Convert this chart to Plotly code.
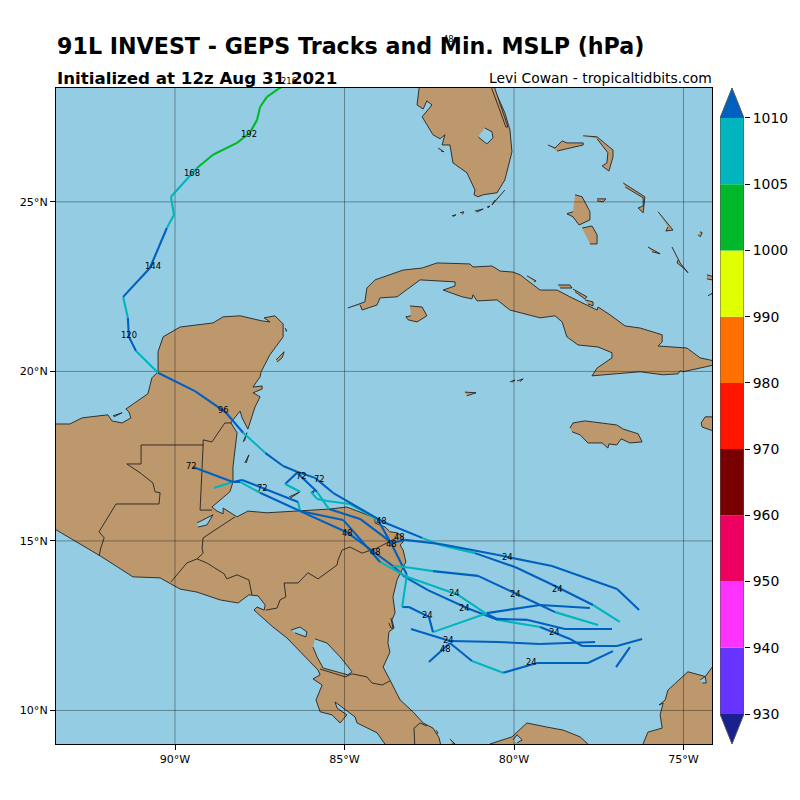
import plotly.graph_objects as go

# coastlines, (lon, lat)
central_america = [(-93.8,18.45),(-93.10,18.45),(-92.74,18.63),(-91.98,18.72),(-91.86,18.54),(-91.56,18.48),(-91.30,18.63),(-91.36,18.81),(-91.45,18.89),(-90.80,19.34),(-90.68,19.81),(-90.50,19.99),(-90.50,20.58),(-90.35,21.02),(-89.85,21.31),(-88.88,21.43),(-88.58,21.61),(-88.08,21.64),(-87.43,21.49),(-87.20,21.46),(-87.37,21.58),(-87.05,21.64),(-86.81,21.40),(-86.81,21.02),(-87.20,20.49),(-87.46,19.99),(-87.49,19.84),(-87.70,19.54),(-87.43,19.57),(-87.43,19.48),(-87.70,19.37),(-87.49,19.25),(-87.64,18.95),(-87.85,18.30),(-88.02,18.63),(-88.08,18.83),(-88.29,18.57),(-88.35,18.48),(-88.17,18.19),(-88.23,17.68),(-88.29,17.18),(-88.29,16.74),(-88.38,16.45),(-88.91,16.00),(-88.76,15.88),(-88.58,15.80),(-88.58,15.97),(-88.17,15.71),(-87.85,15.88),(-87.29,15.83),(-86.31,15.88),(-85.43,15.94),(-84.93,16.00),(-84.54,15.85),(-84.10,15.68),(-84.10,15.53),(-83.80,15.41),(-83.66,15.27),(-83.45,15.24),(-83.27,15.12),(-83.27,14.97),(-83.36,14.88),(-83.27,14.73),(-83.19,14.38),(-83.45,13.85),(-83.57,13.35),(-83.51,12.88),(-83.60,12.67),(-83.54,12.43),(-83.69,12.32),(-83.72,11.99),(-83.66,11.72),(-83.86,11.28),(-83.66,10.90),(-83.36,10.31),(-82.98,9.96),(-82.68,9.63),(-82.39,9.48),(-82.21,9.19),(-82.12,8.8),(-83.66,8.8),(-84.04,9.34),(-84.63,9.63),(-84.69,9.81),(-85.28,10.25),(-85.22,10.07),(-84.93,9.87),(-85.13,9.63),(-85.37,9.87),(-85.72,9.96),(-85.84,10.31),(-85.66,10.75),(-85.93,10.93),(-85.72,11.05),(-85.78,11.19),(-86.70,12.14),(-87.11,12.46),(-87.67,12.96),(-87.58,13.05),(-87.37,12.96),(-87.34,13.11),(-87.55,13.38),(-87.82,13.41),(-88.14,13.17),(-88.67,13.26),(-89.35,13.49),(-89.85,13.58),(-90.44,13.91),(-91.24,13.94),(-92.21,14.56),(-93.8,15.5)]
florida = [(-82.77,28.6),(-82.86,27.86),(-82.68,27.74),(-82.57,27.98),(-82.42,27.86),(-82.71,27.51),(-82.39,26.98),(-82.18,26.86),(-82.04,26.98),(-82.12,26.68),(-81.89,26.68),(-81.80,26.15),(-81.39,25.86),(-81.15,25.35),(-81.18,25.21),(-81.06,25.15),(-80.91,25.21),(-80.50,25.27),(-80.27,25.65),(-80.06,26.48),(-80.12,27.12),(-80.27,27.63),(-80.71,28.6)]
cuba = [(-84.90,21.87),(-84.40,22.05),(-84.34,22.46),(-84.10,22.70),(-83.27,22.99),(-82.71,23.05),(-82.27,23.20),(-81.30,23.17),(-81.21,23.08),(-80.65,23.11),(-80.41,22.96),(-80.03,22.93),(-79.82,22.85),(-79.23,22.40),(-78.73,22.40),(-78.35,22.20),(-77.55,21.81),(-77.52,21.90),(-77.17,21.67),(-76.72,21.34),(-76.28,21.28),(-75.63,21.08),(-75.63,20.87),(-75.75,20.75),(-74.90,20.69),(-74.51,20.40),(-74.10,20.31),(-74.10,20.19),(-74.51,20.10),(-75.01,19.99),(-75.10,20.02),(-75.16,19.93),(-75.60,19.90),(-76.28,19.99),(-77.70,19.87),(-77.55,20.10),(-77.11,20.40),(-77.11,20.55),(-77.52,20.72),(-78.11,20.78),(-78.44,21.02),(-78.58,21.46),(-78.79,21.64),(-79.23,21.58),(-80.12,21.81),(-80.50,22.11),(-81.09,22.08),(-81.21,22.26),(-81.24,22.14),(-81.53,22.20),(-82.09,22.40),(-81.74,22.52),(-81.74,22.64),(-82.77,22.70),(-83.45,22.20),(-83.95,22.17),(-84.04,21.96),(-84.48,21.81),(-84.54,21.96)]
isle_of_youth = [(-83.07,21.93),(-82.71,21.90),(-82.57,21.64),(-82.86,21.46),(-83.12,21.52),(-83.19,21.61),(-83.04,21.64)]
jamaica = [(-78.35,18.33),(-78.26,18.48),(-77.91,18.54),(-76.97,18.42),(-76.78,18.30),(-76.34,18.16),(-76.22,17.92),(-76.58,17.89),(-76.84,18.01),(-76.97,17.83),(-77.20,17.86),(-77.23,17.74),(-77.40,17.89),(-77.82,17.89),(-78.05,18.13),(-78.29,18.22)]
hispaniola = [(-74.0,18.66),(-74.36,18.66),(-74.48,18.48),(-74.45,18.36),(-74.0,18.2)]
andros = [(-78.20,25.21),(-77.99,25.15),(-77.76,24.71),(-77.76,24.47),(-78.08,24.32),(-78.26,24.56),(-78.44,24.65),(-78.26,24.71)]
andros_south = [(-77.99,24.23),(-77.70,24.29),(-77.55,24.03),(-77.55,23.76),(-77.76,23.76)]
grand_bahama = [(-79.00,26.68),(-78.79,26.59),(-78.58,26.80),(-78.44,26.74),(-77.96,26.74),(-77.96,26.68),(-78.73,26.50)]
abaco = [(-77.96,26.95),(-77.55,26.92),(-77.08,26.53),(-77.08,26.33),(-77.20,25.91),(-77.40,26.06),(-77.26,26.15),(-77.23,26.45),(-77.55,26.86)]
eleuthera = [(-76.78,25.56),(-76.14,25.15),(-76.19,24.68),(-76.34,24.82),(-76.19,24.88),(-76.19,25.12),(-76.72,25.44)]
new_providence = [(-77.55,25.09),(-77.29,25.09),(-77.37,25.00),(-77.55,25.03)]
cat_island = [(-75.75,24.71),(-75.31,24.17),(-75.52,24.14),(-75.46,24.26)]
san_salvador = [(-74.51,24.12),(-74.45,24.09),(-74.51,23.97),(-74.57,24.03)]
exuma = [(-76.05,23.67),(-75.69,23.47),(-75.93,23.53)]
long_island = [(-75.34,23.67),(-75.10,23.20),(-74.87,22.91),(-74.96,23.02),(-75.19,23.20),(-75.16,23.29)]
crooked = [(-74.31,22.85),(-74.0,22.76),(-74.0,22.67),(-74.31,22.73)]
acklins = [(-74.28,22.23),(-74.0,22.40),(-74.0,22.30)]
cays_a = [(-79.62,22.82),(-79.35,22.67),(-79.41,22.64)]
cays_b = [(-78.70,22.55),(-78.35,22.55),(-78.29,22.46),(-78.64,22.46)]
cays_c = [(-78.26,22.43),(-77.85,22.20),(-77.91,22.14),(-78.20,22.35)]
cays_d = [(-77.91,22.11),(-77.67,22.05),(-77.67,21.93),(-77.82,21.99)]
cayman = [(-81.45,19.39),(-81.12,19.37),(-81.39,19.28)]
little_cayman = [(-80.12,19.69),(-79.97,19.75),(-80.05,19.68)]
cayman_brac = [(-79.91,19.72),(-79.73,19.78),(-79.82,19.70)]
cozumel = [(-87.02,20.34),(-86.78,20.58),(-86.84,20.40),(-86.99,20.28)]
mujeres = [(-86.75,21.28),(-86.70,21.19),(-86.74,21.20)]
turneffe_a = [(-87.99,17.92),(-87.88,18.19),(-87.95,17.95)]
turneffe_b = [(-87.94,17.30),(-87.82,17.54),(-87.90,17.30)]
carmen = [(-91.83,18.69),(-91.56,18.78),(-91.80,18.66)]
roatan = [(-86.63,16.30),(-86.31,16.45),(-86.60,16.26)]
utila = [(-85.96,16.45),(-85.87,16.50),(-85.93,16.40)]
pearl_cays = [(-83.63,12.73),(-83.57,12.43),(-83.63,12.43),(-83.69,12.58)]
barrier_east = [(-80.65,28.6),(-80.18,27.21),(-80.24,27.21),(-80.75,28.6)]
pine_island = [(-82.24,26.59),(-82.07,26.48),(-82.15,26.50)]
upper_keys = [(-80.27,25.35),(-80.65,24.91),(-80.56,25.06)]
key_a = [(-81.83,24.59),(-81.71,24.62),(-81.80,24.57)]
key_b = [(-81.59,24.68),(-81.48,24.71),(-81.52,24.63)]
key_c = [(-81.15,24.73),(-80.91,24.79),(-81.10,24.70)]
key_d = [(-80.80,24.85),(-80.71,24.88),(-80.77,24.82)]
panama_east = [(-80.71,8.8),(-80.71,9.01),(-80.06,9.22),(-79.62,9.63),(-79.03,9.51),(-78.55,9.42),(-78.05,9.22),(-77.82,9.01),(-77.82,8.8)]
colombia = [(-76.28,8.8),(-76.05,9.36),(-75.63,9.48),(-75.69,9.87),(-75.60,10.22),(-75.72,10.16),(-75.54,10.31),(-75.46,10.60),(-74.87,11.14),(-74.36,11.00),(-74.15,11.28),(-74.0,11.5),(-74.0,8.8)]
san_blas = [(-81.89,9.16),(-81.74,9.01),(-81.83,9.01)]
bocas = [(-82.30,9.42),(-82.24,9.33),(-82.28,9.33)]
land_polys = [central_america, florida, cuba, isle_of_youth, jamaica, hispaniola, andros, andros_south,
              grand_bahama, abaco, eleuthera, new_providence, cat_island, san_salvador, exuma, long_island,
              crooked, acklins, cays_a, cays_b, cays_c, cays_d, cayman, little_cayman, cayman_brac, cozumel,
              mujeres, turneffe_a, turneffe_b, carmen, roatan, utila, pearl_cays, barrier_east, pine_island,
              upper_keys, key_a, key_b, key_c, key_d, panama_east, colombia, san_blas, bocas]

# lakes
lake_nicaragua = [(-85.87,12.11),(-85.52,11.99),(-85.13,11.58),(-84.78,11.14),(-84.90,11.05),(-85.63,11.25),(-85.81,11.58),(-85.93,11.87)]
lake_managua = [(-86.58,12.37),(-86.31,12.46),(-86.11,12.32),(-86.14,12.17),(-86.31,12.23),(-86.46,12.29)]
lake_izabal = [(-89.35,15.53),(-88.88,15.77),(-89.06,15.47),(-89.32,15.41)]
okeechobee = [(-80.86,27.18),(-80.65,27.07),(-80.62,26.89),(-80.80,26.71),(-81.06,26.92)]
gatun = [(-80.03,9.13),(-79.91,9.28),(-79.76,9.13),(-79.91,9.04)]
maracaibo = [(-74.51,10.90),(-74.36,11.00),(-74.33,10.81),(-74.45,10.81)]
lake_polys = [lake_nicaragua, lake_managua, lake_izabal, okeechobee, gatun, maracaibo]

# borders
border_gua_bel = [(-91.42,17.27),(-91.00,17.27),(-91.00,17.83),(-89.17,17.83),(-89.26,15.91),(-88.91,15.91)]
border_bel_mex = [(-89.17,17.83),(-89.17,17.98),(-88.91,17.92),(-88.53,18.48),(-88.35,18.48)]
border_mex_gua = [(-91.42,17.27),(-91.03,17.01),(-90.65,16.71),(-90.59,16.45),(-90.44,16.42),(-90.47,16.09),(-91.74,16.09),(-92.24,15.27),(-92.09,15.09),(-92.18,14.82),(-92.24,14.56)]
border_gua_hon = [(-88.23,15.71),(-89.17,15.09),(-89.20,14.79),(-89.17,14.64),(-89.35,14.47)]
border_gua_els = [(-89.35,14.47),(-89.65,14.35),(-90.12,13.79)]
border_els_hon = [(-89.35,14.47),(-89.06,14.35),(-88.55,14.03),(-88.47,13.88),(-88.17,14.00),(-87.82,13.85),(-87.73,13.41)]
border_hon_nic = [(-87.32,12.96),(-86.99,13.02),(-86.90,13.26),(-86.73,13.35),(-86.78,13.76),(-86.37,13.76),(-86.08,14.06),(-85.78,13.88),(-85.22,14.29),(-85.19,14.44),(-85.07,14.73),(-84.84,14.82),(-84.48,14.64),(-84.04,14.79),(-83.75,14.94),(-83.42,15.12)]
border_nic_cr = [(-85.72,11.22),(-84.98,10.99),(-84.78,11.08),(-84.34,10.99),(-84.19,10.81),(-83.89,10.75),(-83.66,10.87)]
border_cr_pan = [(-82.92,8.8),(-82.95,9.48),(-82.77,9.63),(-82.57,9.54)]
border_lines = [border_gua_bel, border_bel_mex, border_mex_gua, border_gua_hon, border_gua_els, border_els_hon,
                border_hon_nic, border_nic_cr, border_cr_pan]

# ensemble tracks, mslp is per leg
track_1_lon = [-76.31,-76.96,-78.88,-80.50,-82.18,-83.22,-83.60,-84.54,-85.46,-85.81,-86.40,-86.75,-86.31]
track_1_lat = [12.96,13.58,14.26,14.59,14.91,15.03,14.94,15.65,15.94,16.45,17.01,16.68,16.45]
track_1_mslp = [1011,1011,1011,1011,1011,1011,1011,1011,1007,1011,1011,1007]

track_2_lon = [-76.88,-77.67,-78.85,-79.97,-81.15,-82.18,-82.71,-83.86,-85.34,-85.87,-86.40,-86.81,-87.34,-87.99,-88.52,-89.41,-90.50,-91.15,-91.36,-91.39,-91.53,-90.74,-90.24,-90.03,-90.12,-89.35,-88.88,-88.17,-87.79,-87.58,-87.49,-87.29,-86.96,-86.61]
track_2_lat = [12.61,13.11,13.70,14.23,14.64,14.88,15.09,15.56,16.42,16.86,17.04,17.21,17.60,18.19,18.81,19.42,19.96,20.60,21.02,21.58,22.20,23.05,24.23,24.62,25.15,26.00,26.39,26.74,27.04,27.42,27.80,28.10,28.33,28.54]
track_2_mslp = [1007,1011,1011,1011,1007,1007,1011,1011,1011,1011,1011,1011,1007,1011,1011,1011,1007,1011,1011,1007,1011,1011,1007,1007,1007,1003,1003,1003,1003,1003,1003,1003,1003]

track_3_lon = [-77.52,-78.79,-79.23,-81.06,-82.39,-83.22,-83.57,-84.90,-86.31,-87.49,-88.08,-88.29,-89.47]
track_3_lat = [12.52,12.90,13.11,13.97,14.11,14.23,14.26,15.24,15.88,16.42,16.74,16.74,17.18]
track_3_mslp = [1007,1011,1011,1011,1007,1007,1011,1011,1011,1007,1011,1011]

track_4_lon = [-77.76,-79.23,-80.80,-82.39,-82.51,-83.10,-83.30,-83.16,-83.57,-84.01,-84.84,-85.52,-85.81,-85.99]
track_4_lat = [13.02,13.11,12.87,12.31,12.76,13.05,13.05,14.00,14.82,15.62,16.09,16.18,16.24,16.45]
track_4_mslp = [1011,1011,1007,1011,1011,1011,1007,1011,1011,1007,1007,1007,1007]

track_5_lon = [-77.11,-78.50,-79.59,-80.50,-80.85,-81.65,-83.16,-83.95,-85.04,-86.31,-86.37,-88.02,-88.29,-88.85]
track_5_lat = [12.40,12.40,12.67,12.70,12.87,13.41,13.94,14.38,15.62,15.88,16.15,16.80,16.74,16.56]
track_5_mslp = [1011,1011,1011,1011,1007,1007,1007,1011,1011,1007,1011,1011,1007]

track_6_lon = [-76.22,-76.96,-77.99,-78.35,-79.23,-80.47,-81.39,-82.54,-83.22,-83.57]
track_6_lat = [12.11,11.90,11.90,12.11,12.46,12.67,13.02,13.55,13.94,14.26]
track_6_mslp = [1011,1011,1011,1011,1007,1011,1011,1011,1011]

track_7_lon = [-77.61,-79.23,-80.47,-81.89,-83.04]
track_7_lat = [12.02,11.96,12.02,12.05,12.40]
track_7_mslp = [1011,1011,1011,1011]

track_8_lon = [-77.08,-77.82,-79.32,-80.32,-81.24,-81.89,-82.51]
track_8_lat = [11.75,11.40,11.40,11.11,11.46,11.99,11.43]
track_8_mslp = [1011,1011,1011,1007,1011,1011]

track_9_lon = [-76.58,-76.99]
track_9_lat = [11.87,11.28]
track_9_mslp = [1011]

tracks = [(track_8_lon, track_8_lat, track_8_mslp), (track_7_lon, track_7_lat, track_7_mslp),
          (track_9_lon, track_9_lat, track_9_mslp), (track_6_lon, track_6_lat, track_6_mslp),
          (track_5_lon, track_5_lat, track_5_mslp), (track_4_lon, track_4_lat, track_4_mslp),
          (track_3_lon, track_3_lat, track_3_mslp), (track_2_lon, track_2_lat, track_2_mslp),
          (track_1_lon, track_1_lat, track_1_mslp)]

# forecast hour labels
hour_text = ['216','48','192','168','144','120','96','72','72','72','72','48','48','48','48','48','48',
             '24','24','24','24','24','24','24','24','24']
hour_lon = [-86.64,-81.92,-87.82,-89.50,-90.65,-91.36,-88.58,-89.50,-87.43,-86.28,-85.75,-84.90,-84.10,-83.90,-83.39,-83.60,-82.01,
            -80.19,-79.95,-78.71,-81.77,-81.45,-82.54,-78.82,-81.92,-79.47]
hour_lat = [28.57,29.81,27.01,25.86,23.11,21.08,18.86,17.21,16.56,16.92,16.83,15.24,14.68,15.59,15.12,14.91,11.82,
            14.53,13.44,13.58,13.47,13.02,12.82,12.32,12.08,11.43]

# colour scale
levels = [930,940,950,960,970,980,990,1000,1005,1010]
level_colors = ['#6633ff','#ff33ff','#ee0060','#780000','#ff1500','#ff7000','#e0ff00','#00b82a','#00b5bd']
under_color = '#1a2090'
over_color = '#0060bf'

lon_ticks = [-90,-85,-80,-75]
lon_labels = ['90°W','85°W','80°W','75°W']
lat_ticks = [10,15,20,25]
lat_labels = ['10°N','15°N','20°N','25°N']

LAND = '#bd986c'
WATER = '#94cde3'
COAST = '#222222'
FONT = 'DejaVu Sans'
x_range = [-93.51, -74.16]
y_range = [9.01, 28.36]
# page puts the figure 8px in from the corner, domains allow for that
x_domain = [0.06, 0.88]
y_domain = [0.08, 0.90]


def leg_color(p):
    if p >= levels[-1]:
        return over_color
    for i in range(len(level_colors)):
        if levels[i] <= p < levels[i + 1]:
            return level_colors[i]
    return under_color


def to_paper(v, rng, dom):
    return dom[0] + (v - rng[0]) / (rng[1] - rng[0]) * (dom[1] - dom[0])


fig = go.Figure()

for poly in land_polys:
    fig.add_trace(go.Scatter(x=[p[0] for p in poly], y=[p[1] for p in poly], mode='lines', fill='toself',
                             fillcolor=LAND, line=dict(color=COAST, width=0.9), hoverinfo='skip'))
for poly in lake_polys:
    fig.add_trace(go.Scatter(x=[p[0] for p in poly], y=[p[1] for p in poly], mode='lines', fill='toself',
                             fillcolor=WATER, line=dict(color=COAST, width=0.9), hoverinfo='skip'))
for b in border_lines:
    fig.add_trace(go.Scatter(x=[p[0] for p in b], y=[p[1] for p in b], mode='lines',
                             line=dict(color=COAST, width=0.9), hoverinfo='skip'))

# grid has to sit above the land, so it is a trace
grid_x = []
grid_y = []
for v in lon_ticks:
    grid_x += [v, v, None]
    grid_y += [y_range[0], y_range[1], None]
for v in lat_ticks:
    grid_x += [x_range[0], x_range[1], None]
    grid_y += [v, v, None]
fig.add_trace(go.Scatter(x=grid_x, y=grid_y, mode='lines', line=dict(color='rgba(0,0,0,0.4)', width=0.9),
                         hoverinfo='skip'))

for lon, lat, mslp in tracks:
    for i in range(len(mslp)):
        fig.add_trace(go.Scatter(x=lon[i:i + 2], y=lat[i:i + 2], mode='lines',
                                 line=dict(color=leg_color(mslp[i]), width=2.1), hoverinfo='skip'))

# colour bar on its own axes, one band per level step
n_band = len(level_colors)
for i in range(n_band):
    fig.add_trace(go.Bar(x=[0.5], y=[1], base=[i], width=[1], marker=dict(color=level_colors[i], line=dict(width=0)),
                         xaxis='x2', yaxis='y2', hoverinfo='skip'))
arrow = 0.452
fig.add_trace(go.Scatter(x=[0, 1, 0.5, 0], y=[0, 0, -arrow, 0], mode='lines', fill='toself', fillcolor=under_color,
                         line=dict(width=0), xaxis='x2', yaxis='y2', hoverinfo='skip'))
fig.add_trace(go.Scatter(x=[0, 1, 0.5, 0], y=[n_band, n_band, n_band + arrow, n_band], mode='lines', fill='toself',
                         fillcolor=over_color, line=dict(width=0), xaxis='x2', yaxis='y2', hoverinfo='skip'))
fig.add_trace(go.Scatter(x=[0, 0, 0.5, 1, 1, 0.5, 0], y=[0, n_band, n_band + arrow, n_band, 0, -arrow, 0], mode='lines',
                         line=dict(color='#555555', width=1), xaxis='x2', yaxis='y2', hoverinfo='skip'))

notes = [
    dict(text='<b>91L INVEST - GEPS Tracks and Min. MSLP (hPa)</b>', xref='paper', yref='paper', x=0.05875, y=0.9525,
         xanchor='left', yanchor='middle', showarrow=False, font=dict(size=22.2, family=FONT)),
    dict(text='<b>Initialized at 12z Aug 31 2021</b>', xref='paper', yref='paper', x=0.05875, y=0.9125,
         xanchor='left', yanchor='middle', showarrow=False, font=dict(size=16.67, family=FONT)),
    dict(text='Levi Cowan - tropicaltidbits.com', xref='paper', yref='paper', x=0.8825, y=0.9125,
         xanchor='right', yanchor='middle', showarrow=False, font=dict(size=13.9, family=FONT)),
]
# hour labels, plotly drops annotations outside the axis range so those go on paper
for t, lon, lat in zip(hour_text, hour_lon, hour_lat):
    note = dict(text=t, showarrow=False, xanchor='center', yanchor='middle', borderpad=0,
                font=dict(size=8.4, family=FONT, color='black'))
    if lat > y_range[1]:
        note.update(x=to_paper(lon, x_range, x_domain), y=to_paper(lat, y_range, y_domain), xref='paper', yref='paper')
    else:
        note.update(x=lon, y=lat, xref='x', yref='y')
    notes.append(note)

fig.update_layout(
    width=800, height=800, margin=dict(l=0, r=0, t=0, b=0), showlegend=False,
    paper_bgcolor='white', plot_bgcolor='white', barmode='overlay',
    font=dict(family=FONT, color='black'),
    xaxis=dict(domain=x_domain, range=x_range, tickvals=lon_ticks, ticktext=lon_labels, ticks='outside',
               ticklen=5, tickwidth=1, tickcolor='black', tickfont=dict(size=11.1), showgrid=False, zeroline=False,
               showline=True, linecolor='black', linewidth=1.1, mirror=True),
    yaxis=dict(domain=y_domain, range=y_range, tickvals=lat_ticks, ticktext=lat_labels, ticks='outside',
               ticklen=5, tickwidth=1, tickcolor='black', tickfont=dict(size=11.1), showgrid=False, zeroline=False,
               showline=True, linecolor='black', linewidth=1.1, mirror=True),
    xaxis2=dict(domain=[0.89, 0.92], range=[0, 1], anchor='y2', visible=False),
    yaxis2=dict(domain=y_domain, range=[-arrow, n_band + arrow], anchor='x2', side='right',
                tickvals=list(range(len(levels))), ticktext=[str(v) for v in levels], ticks='outside', ticklen=5,
                tickwidth=1, tickcolor='black', tickfont=dict(size=13.9), showgrid=False, zeroline=False,
                showline=False),
    shapes=[dict(type='rect', xref='x domain', yref='y domain', x0=0, x1=1, y0=0, y1=1, layer='below',
                 fillcolor=WATER, line=dict(width=0))],
    annotations=notes,
)

fig.write_html('out.html')
